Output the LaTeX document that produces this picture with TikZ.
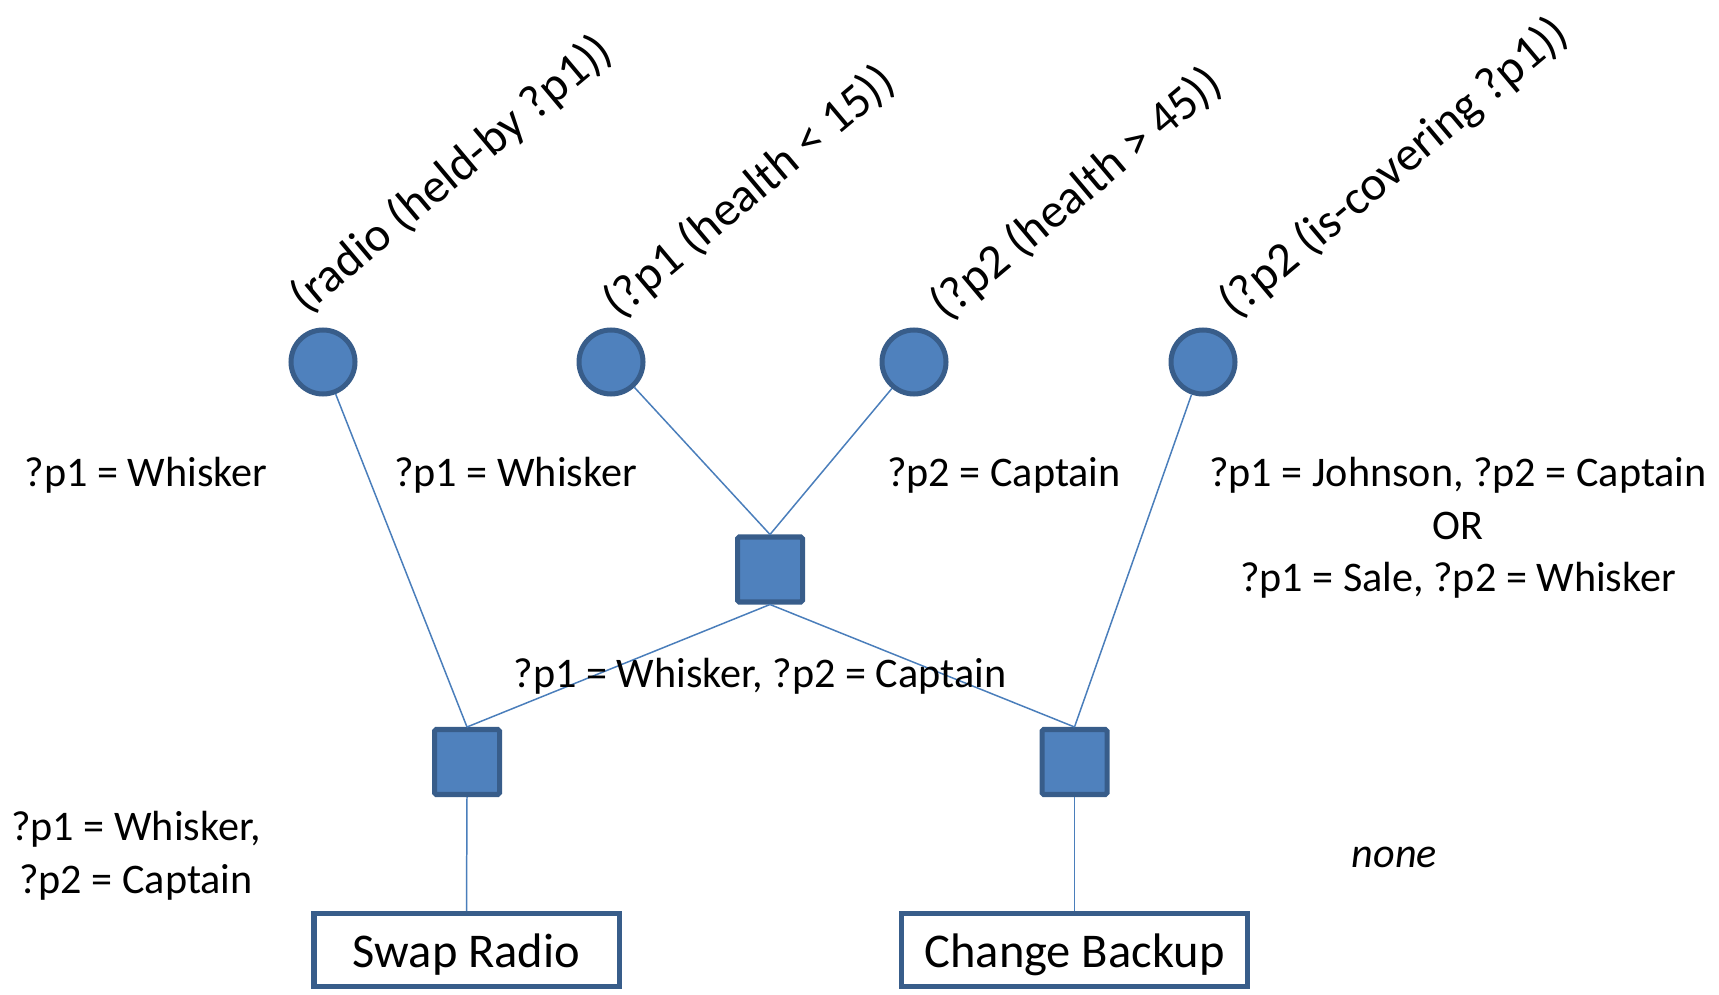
\documentclass[tikz,border=0pt]{standalone}
\usepackage{fontspec}
\setmainfont{Carlito}
\usepackage{tikz}
\definecolor{nodefill}{HTML}{4F81BD}
\definecolor{nodeline}{HTML}{385D8A}
\definecolor{linkline}{HTML}{4A7EBB}
\tikzset{condnode/.style={circle,fill=nodefill,draw=nodeline,line width=2.85pt,minimum size=1.28cm,inner sep=0pt}}
\tikzset{joinnode/.style={rectangle,rounded corners=1pt,fill=nodefill,draw=nodeline,line width=2.85pt,minimum size=1.3cm,inner sep=0pt}}
\tikzset{actnode/.style={rectangle,draw=nodeline,line width=2.85pt,minimum height=1.46cm,text height=25.5pt,text depth=5.5pt,font=\fontsize{27.6}{33}\selectfont}}
\tikzset{link/.style={draw=linkline,line width=0.85pt}}
\tikzset{binding/.style={align=center,font=\fontsize{24}{30}\selectfont}}
\tikzset{condtext/.style={rotate=40,anchor=base west,inner sep=0pt,font=\fontsize{27.6}{33}\selectfont}}

\begin{document}
\begin{tikzpicture}
\useasboundingbox (0,0) rectangle (34.38,19.88);

\node[condnode] (c1) at (6.46,12.64) {};
\node[condnode] (c2) at (12.22,12.64) {};
\node[condnode] (c3) at (18.28,12.64) {};
\node[condnode] (c4) at (24.06,12.64) {};
\node[condtext] (t1) at (6.12,13.58) {(radio (held-by ?p1))};
\node[condtext] (t2) at (12.38,13.48) {(?p1 (health < 15))};
\node[condtext] (t3) at (18.92,13.44) {(?p2 (health > 45))};
\node[condtext] (t4) at (24.70,13.48) {(?p2 (is-covering ?p1))};

\node[joinnode] (jm) at (15.40,8.49) {};
\node[joinnode] (jl) at (9.34,4.64) {};
\node[joinnode] (jr) at (21.49,4.64) {};

\node[actnode,minimum width=6.1cm] (swap) at (9.33,0.88) {Swap Radio};
\node[actnode,minimum width=6.92cm] (change) at (21.49,0.88) {Change Backup};

\draw[link] (c1) -- (jl.north);
\draw[link] (c2) -- (jm.north);
\draw[link] (c3) -- (jm.north);
\draw[link] (c4) -- (jr.north);
\draw[link] (jm.south) -- (jl.north);
\draw[link] (jm.south) -- (jr.north);
\draw[link] (jl.south) -- (swap.north);
\draw[link] (jr.south) -- (change.north);

\node[binding] (b1) at (2.92,10.37) {?p1 = Whisker};
\node[binding] (b2) at (10.31,10.37) {?p1 = Whisker};
\node[binding] (b3) at (20.08,10.37) {?p2 = Captain};
\node[binding] (b4) at (29.16,9.32) {?p1 = Johnson, ?p2 = Captain\\OR\\?p1 = Sale, ?p2 = Whisker};
\node[binding] (b5) at (15.20,6.36) {?p1 = Whisker, ?p2 = Captain};
\node[binding] (b6) at (2.72,2.77) {?p1 = Whisker,\\?p2 = Captain};
\node[binding] (b7) at (27.89,2.74) {\itshape none};
\end{tikzpicture}
\end{document}
